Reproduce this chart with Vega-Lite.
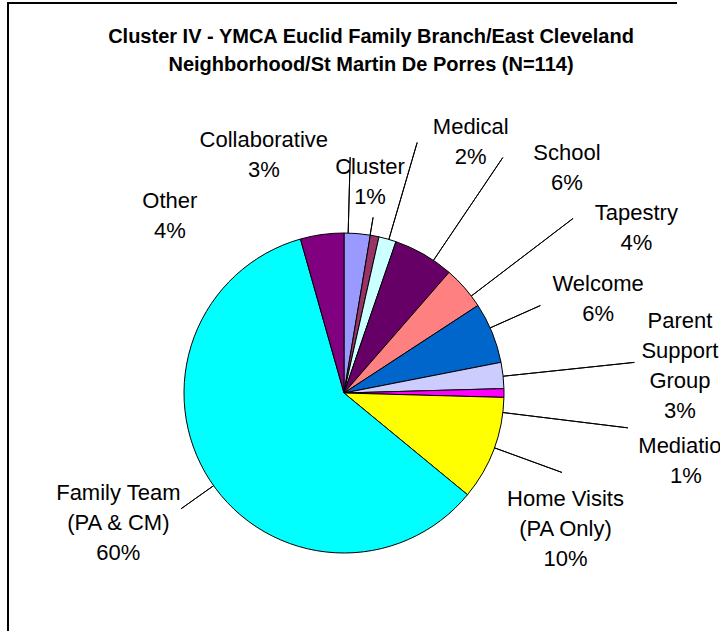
{
  "$schema": "https://vega.github.io/schema/vega-lite/v6.json",
  "width": 672,
  "height": 780,
  "autosize": {"type": "none"},
  "padding": {"left": 8, "top": 3, "right": 40, "bottom": -152},
  "background": "white",
  "view": {"stroke": "black", "strokeWidth": 2, "strokeDash": [669, 1455, 780], "fill": "white"},
  "title": {
    "text": ["Cluster IV - YMCA Euclid Family Branch/East Cleveland", "Neighborhood/St Martin De Porres (N=114)"],
    "font": "Liberation Sans",
    "fontSize": 20,
    "fontWeight": "bold",
    "color": "black",
    "anchor": "middle",
    "frame": "group",
    "dx": 27,
    "offset": -72,
    "lineHeight": 28
  },
  "data": {
    "values": [
      {"idx": 0, "category": "Collaborative", "count": 3, "label": ["Collaborative", "3%"]},
      {"idx": 1, "category": "Cluster", "count": 1, "label": ["Cluster", "1%"]},
      {"idx": 2, "category": "Medical", "count": 2, "label": ["Medical", "2%"]},
      {"idx": 3, "category": "School", "count": 7, "label": ["School", "6%"]},
      {"idx": 4, "category": "Tapestry", "count": 5, "label": ["Tapestry", "4%"]},
      {"idx": 5, "category": "Welcome", "count": 7, "label": ["Welcome", "6%"]},
      {"idx": 6, "category": "Parent Support Group", "count": 3, "label": ["Parent", "Support", "Group", "3%"]},
      {"idx": 7, "category": "Mediation", "count": 1, "label": ["Mediation", "1%"]},
      {"idx": 8, "category": "Home Visits (PA Only)", "count": 12, "label": ["Home Visits", "(PA Only)", "10%"]},
      {"idx": 9, "category": "Family Team (PA & CM)", "count": 68, "label": ["Family Team", "(PA & CM)", "60%"]},
      {"idx": 10, "category": "Other", "count": 5, "label": ["Other", "4%"]}
    ]
  },
  "encoding": {
    "theta": {"field": "count", "type": "quantitative", "stack": true},
    "order": {"field": "idx", "type": "quantitative", "sort": "ascending"},
    "detail": {"field": "category", "type": "nominal"}
  },
  "layer": [
    {
      "mark": {"type": "arc", "outerRadius": 160, "stroke": "black", "strokeWidth": 1},
      "encoding": {
        "color": {
          "field": "category",
          "type": "nominal",
          "legend": null,
          "scale": {
            "domain": ["Collaborative", "Cluster", "Medical", "School", "Tapestry", "Welcome", "Parent Support Group", "Mediation", "Home Visits (PA Only)", "Family Team (PA & CM)", "Other"],
            "range": ["#9999FF", "#993366", "#CCFFFF", "#660066", "#FF8080", "#0066CC", "#CCCCFF", "#FF00FF", "#FFFF00", "#00FFFF", "#800080"]
          }
        }
      }
    },
    {"mark": {"type": "arc", "innerRadius": 160, "outerRadius": 236, "padAngle": 3, "thetaOffset": -0.0565, "theta2Offset": -0.0565, "fillOpacity": 0, "stroke": "black", "strokeWidth": 1},
     "encoding": {"opacity": {"condition": {"test": "datum.idx === 0", "value": 1}, "value": 0}}},
    {"mark": {"type": "arc", "innerRadius": 160, "outerRadius": 178, "padAngle": 3, "thetaOffset": -0.0288, "theta2Offset": -0.0288, "fillOpacity": 0, "stroke": "black", "strokeWidth": 1},
     "encoding": {"opacity": {"condition": {"test": "datum.idx === 1", "value": 1}, "value": 0}}},
    {"mark": {"type": "arc", "innerRadius": 160, "outerRadius": 261, "padAngle": 3, "thetaOffset": 0.0087, "theta2Offset": 0.0087, "fillOpacity": 0, "stroke": "black", "strokeWidth": 1},
     "encoding": {"opacity": {"condition": {"test": "datum.idx === 2", "value": 1}, "value": 0}}},
    {"mark": {"type": "arc", "innerRadius": 160, "outerRadius": 284, "padAngle": 3, "thetaOffset": 0.0698, "theta2Offset": 0.0698, "fillOpacity": 0, "stroke": "black", "strokeWidth": 1},
     "encoding": {"opacity": {"condition": {"test": "datum.idx === 3", "value": 1}, "value": 0}}},
    {"mark": {"type": "arc", "innerRadius": 160, "outerRadius": 288, "padAngle": 3, "thetaOffset": 0.0654, "theta2Offset": 0.0654, "fillOpacity": 0, "stroke": "black", "strokeWidth": 1},
     "encoding": {"opacity": {"condition": {"test": "datum.idx === 4", "value": 1}, "value": 0}}},
    {"mark": {"type": "arc", "innerRadius": 160, "outerRadius": 215, "padAngle": 3, "thetaOffset": -0.0332, "theta2Offset": -0.0332, "fillOpacity": 0, "stroke": "black", "strokeWidth": 1},
     "encoding": {"opacity": {"condition": {"test": "datum.idx === 5", "value": 1}, "value": 0}}},
    {"mark": {"type": "arc", "innerRadius": 160, "outerRadius": 292, "padAngle": 3, "thetaOffset": 0.0052, "theta2Offset": 0.0052, "fillOpacity": 0, "stroke": "black", "strokeWidth": 1},
     "encoding": {"opacity": {"condition": {"test": "datum.idx === 6", "value": 1}, "value": 0}}},
    {"mark": {"type": "arc", "innerRadius": 160, "outerRadius": 286, "padAngle": 3, "thetaOffset": 0.1222, "theta2Offset": 0.1222, "fillOpacity": 0, "stroke": "black", "strokeWidth": 1},
     "encoding": {"opacity": {"condition": {"test": "datum.idx === 7", "value": 1}, "value": 0}}},
    {"mark": {"type": "arc", "innerRadius": 160, "outerRadius": 232, "padAngle": 3, "thetaOffset": -0.0087, "theta2Offset": -0.0087, "fillOpacity": 0, "stroke": "black", "strokeWidth": 1},
     "encoding": {"opacity": {"condition": {"test": "datum.idx === 8", "value": 1}, "value": 0}}},
    {"transform": [
       {"window": [{"op": "sum", "field": "count", "as": "cum"}], "sort": [{"field": "idx", "order": "ascending"}]},
       {"filter": "datum.idx === 9"}
     ],
     "mark": {"type": "arc", "innerRadius": 160, "outerRadius": 200, "thetaOffset": -1.913, "theta2Offset": -1.913, "fillOpacity": 0, "stroke": "black", "strokeWidth": 1},
     "encoding": {"theta": {"field": "cum", "type": "quantitative", "stack": null}, "theta2": {"field": "cum"}}},
    {"mark": {"type": "text", "radius": 252, "dx": -101, "dy": -2},
     "encoding": {"text": {"field": "label"}, "opacity": {"condition": {"test": "datum.idx === 0", "value": 1}, "value": 0}}},
    {"mark": {"type": "text", "radius": 214, "dx": -15, "dy": -16},
     "encoding": {"text": {"field": "label"}, "opacity": {"condition": {"test": "datum.idx === 1", "value": 1}, "value": 0}}},
    {"mark": {"type": "text", "radius": 282, "dx": 50, "dy": 5},
     "encoding": {"text": {"field": "label"}, "opacity": {"condition": {"test": "datum.idx === 2", "value": 1}, "value": 0}}},
    {"mark": {"type": "text", "radius": 318, "dx": 64, "dy": 35},
     "encoding": {"text": {"field": "label"}, "opacity": {"condition": {"test": "datum.idx === 3", "value": 1}, "value": 0}}},
    {"mark": {"type": "text", "radius": 336, "dx": 39, "dy": 41},
     "encoding": {"text": {"field": "label"}, "opacity": {"condition": {"test": "datum.idx === 4", "value": 1}, "value": 0}}},
    {"mark": {"type": "text", "radius": 271, "dx": 3, "dy": -7},
     "encoding": {"text": {"field": "label"}, "opacity": {"condition": {"test": "datum.idx === 5", "value": 1}, "value": 0}}},
    {"mark": {"type": "text", "radius": 337, "dx": 1, "dy": -35},
     "encoding": {"text": {"field": "label"}, "opacity": {"condition": {"test": "datum.idx === 6", "value": 1}, "value": 0}}},
    {"mark": {"type": "text", "radius": 349, "dx": -7, "dy": 53},
     "encoding": {"text": {"field": "label"}, "opacity": {"condition": {"test": "datum.idx === 7", "value": 1}, "value": 0}}},
    {"mark": {"type": "text", "radius": 260, "dx": -22, "dy": 15},
     "encoding": {"text": {"field": "label"}, "opacity": {"condition": {"test": "datum.idx === 8", "value": 1}, "value": 0}}},
    {"mark": {"type": "text", "radius": 260, "dx": -8, "dy": -42},
     "encoding": {"text": {"field": "label"}, "opacity": {"condition": {"test": "datum.idx === 9", "value": 1}, "value": 0}}},
    {"mark": {"type": "text", "radius": 249, "dx": -140, "dy": 55},
     "encoding": {"text": {"field": "label"}, "opacity": {"condition": {"test": "datum.idx === 10", "value": 1}, "value": 0}}}
  ],
  "config": {
    "view": {"stroke": "black", "strokeWidth": 2},
    "text": {"font": "Liberation Sans", "fontSize": 22, "lineHeight": 30, "align": "center", "baseline": "middle", "color": "black"}
  }
}
